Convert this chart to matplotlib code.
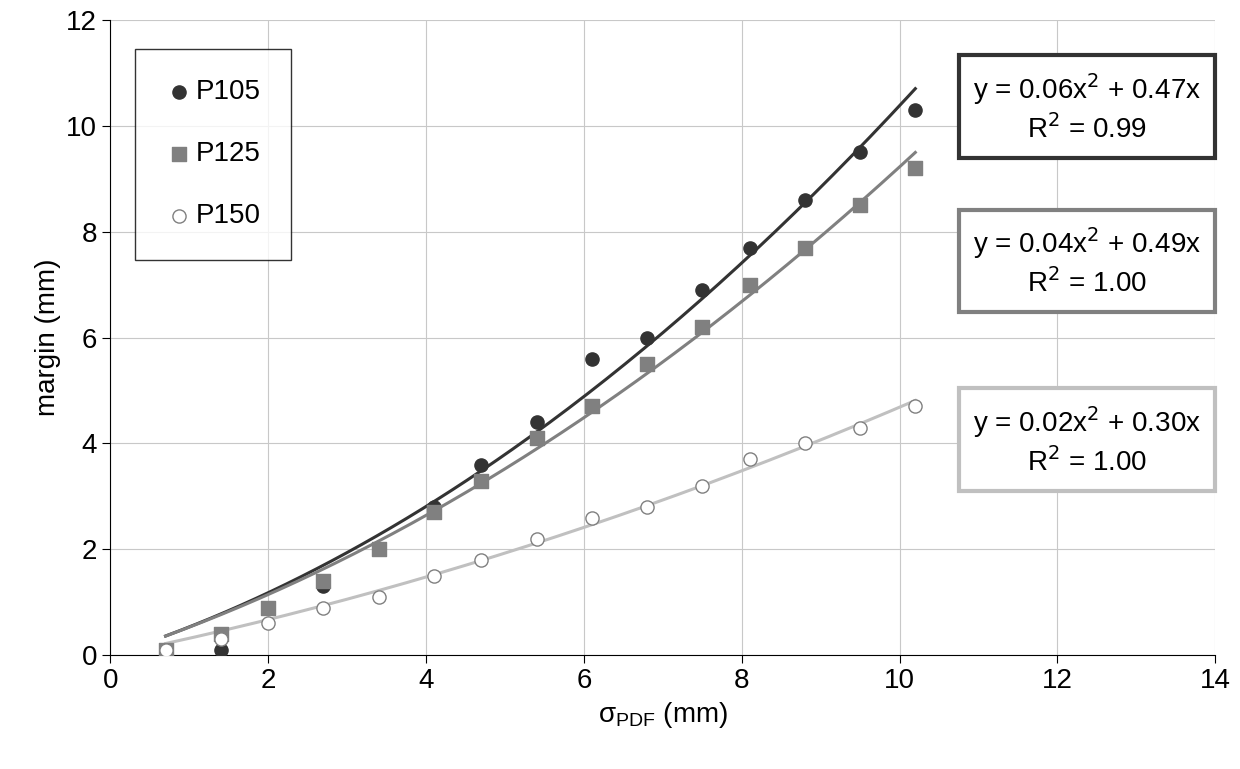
import matplotlib
matplotlib.use("Agg")
import matplotlib.pyplot as plt
import numpy as np

plt.rcParams['font.family'] = ['Liberation Sans', 'DejaVu Sans']

sigma = [0.7, 1.4, 2.0, 2.7, 3.4, 4.1, 4.7, 5.4, 6.1, 6.8, 7.5, 8.1, 8.8, 9.5, 10.2]
p105 = [0.0, 0.1, 0.9, 1.3, 2.0, 2.8, 3.6, 4.4, 5.6, 6.0, 6.9, 7.7, 8.6, 9.5, 10.3]
p125 = [0.1, 0.4, 0.9, 1.4, 2.0, 2.7, 3.3, 4.1, 4.7, 5.5, 6.2, 7.0, 7.7, 8.5, 9.2]
p150 = [0.1, 0.3, 0.6, 0.9, 1.1, 1.5, 1.8, 2.2, 2.6, 2.8, 3.2, 3.7, 4.0, 4.3, 4.7]
eqs = [("y = 0.06x$^2$ + 0.47x\nR$^2$ = 0.99", "#333333"),
       ("y = 0.04x$^2$ + 0.49x\nR$^2$ = 1.00", "#808080"),
       ("y = 0.02x$^2$ + 0.30x\nR$^2$ = 1.00", "#c0c0c0")]

fig = plt.figure(figsize=(12.4, 7.69), dpi=100)
ax = fig.add_axes([0.089, 0.148, 0.891, 0.826])

x = np.array(sigma)
xs = np.linspace(0.7, 10.2, 200)
def fit(y):
    A = np.column_stack([x**2, x])
    c = np.linalg.lstsq(A, np.array(y), rcond=None)[0]
    return c[0]*xs**2 + c[1]*xs

ax.plot(xs, fit(p105), color="#333333", lw=2.2, zorder=2)
ax.plot(xs, fit(p125), color="#808080", lw=2.2, zorder=2)
ax.plot(xs, fit(p150), color="#c0c0c0", lw=2.2, zorder=2)
ax.scatter(sigma, p105, s=90, marker='o', color="#333333", label="P105", zorder=3)
ax.scatter(sigma, p125, s=90, marker='s', color="#808080", label="P125", zorder=3)
ax.scatter(sigma, p150, s=90, marker='o', facecolor="white", edgecolor="#808080", label="P150", zorder=3)

ax.set_xlim(0, 14)
ax.set_ylim(0, 12)
ax.set_xticks(range(0, 15, 2))
ax.set_yticks(range(0, 13, 2))
ax.grid(color="#c8c8c8", lw=0.8)
ax.set_axisbelow(True)
ax.tick_params(labelsize=20, direction='out', length=6)
for s in ['top', 'right']:
    ax.spines[s].set_visible(False)
ax.set_xlabel("σ$_{\\mathregular{PDF}}$ (mm)", fontsize=20)
ax.set_ylabel("margin (mm)", fontsize=20)

leg = ax.legend(loc="upper left", bbox_to_anchor=(0.022, 0.955), fontsize=20, frameon=True,
                fancybox=False, edgecolor="black", handletextpad=0.1, labelspacing=1.3,
                borderpad=1.1, handlelength=1.0, borderaxespad=0)
leg.get_frame().set_linewidth(1)

ys = [10.34, 7.43, 4.05]
for (t, c), yv in zip(eqs, ys):
    ax.text(12.38, yv, t, fontsize=20, ha='center', va='center', linespacing=1.3,
            bbox=dict(boxstyle="square,pad=0.5", facecolor="white", edgecolor=c, lw=3))

fig.savefig("out.png")
